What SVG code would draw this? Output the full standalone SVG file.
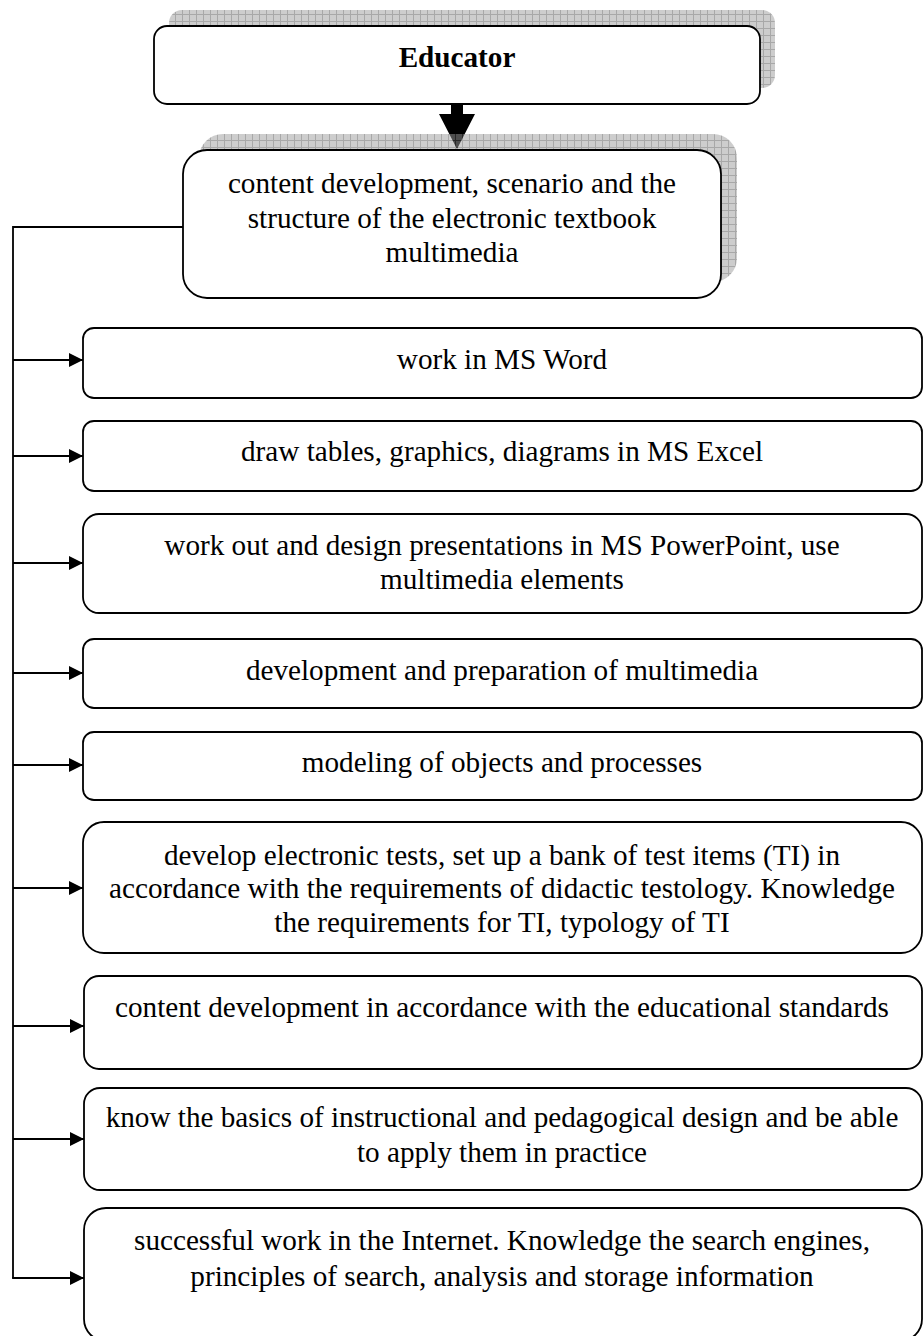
<svg xmlns="http://www.w3.org/2000/svg" width="923" height="1336" viewBox="0 0 923 1336">
  <defs>
    <pattern id="grid" width="7" height="7" patternUnits="userSpaceOnUse">
      <rect width="7" height="7" fill="#9b9b9b"/>
      <path d="M0 0.5H7M0.5 0V7" stroke="#515151" stroke-width="1" fill="none"/>
    </pattern>
    <marker id="ah" viewBox="0 0 14 14" refX="14" refY="7" markerWidth="14" markerHeight="14" markerUnits="userSpaceOnUse" orient="auto">
      <path d="M0 0L14 7L0 14Z" fill="#000"/>
    </marker>
    <style>
      .box { fill: #ffffff; stroke: #000000; stroke-width: 1.8; }
      .shadow { fill: url(#grid); opacity: 0.5; }
      .t { font-family: "Liberation Serif", "Times New Roman", serif; font-size: 29.2px; fill: #000; text-anchor: middle; }
      .b { font-weight: bold; }
      .conn { fill: none; stroke: #000; stroke-width: 1.8; }
    </style>
  </defs>

  <g id="educator">
    <rect class="shadow" x="169" y="10" width="606" height="78" rx="13"/>
    <rect class="box" x="154" y="26" width="606" height="78" rx="13"/>
    <text class="t b" x="457" y="67">Educator</text>
  </g>

  <g id="arrow-main">
    <path d="M451 104H463V114H475L457 149L439 114H451Z" fill="#000"/>
  </g>

  <g id="content">
    <rect class="shadow" x="199" y="134" width="538" height="148" rx="24"/>
    <rect class="box" x="183" y="150" width="538" height="148" rx="24"/>
    <text class="t" x="452" y="193">content development, scenario and the</text>
    <text class="t" x="452" y="228">structure of the electronic textbook</text>
    <text class="t" x="452" y="262">multimedia</text>
  </g>

  <g id="connectors">
    <path class="conn" d="M183 227H13V1278"/>
    <path class="conn" d="M13 360H83" marker-end="url(#ah)"/>
    <path class="conn" d="M13 456H83" marker-end="url(#ah)"/>
    <path class="conn" d="M13 563H83" marker-end="url(#ah)"/>
    <path class="conn" d="M13 673H83" marker-end="url(#ah)"/>
    <path class="conn" d="M13 765H83" marker-end="url(#ah)"/>
    <path class="conn" d="M13 888H83" marker-end="url(#ah)"/>
    <path class="conn" d="M13 1026H84" marker-end="url(#ah)"/>
    <path class="conn" d="M13 1139H84" marker-end="url(#ah)"/>
    <path class="conn" d="M12.1 1278H84" marker-end="url(#ah)"/>
  </g>

  <g id="box1">
    <rect class="box" x="83" y="328" width="839" height="70" rx="11"/>
    <text class="t" x="502" y="369">work in MS Word</text>
  </g>
  <g id="box2">
    <rect class="box" x="83" y="421" width="839" height="70" rx="11"/>
    <text class="t" x="502" y="461">draw tables, graphics, diagrams in MS Excel</text>
  </g>
  <g id="box3">
    <rect class="box" x="83" y="514" width="839" height="99" rx="16"/>
    <text class="t" x="502" y="555">work out and design presentations in MS PowerPoint, use</text>
    <text class="t" x="502" y="589">multimedia elements</text>
  </g>
  <g id="box4">
    <rect class="box" x="83" y="639" width="839" height="69" rx="11"/>
    <text class="t" x="502" y="680">development and preparation of multimedia</text>
  </g>
  <g id="box5">
    <rect class="box" x="83" y="732" width="839" height="68" rx="11"/>
    <text class="t" x="502" y="772">modeling of objects and processes</text>
  </g>
  <g id="box6">
    <rect class="box" x="83" y="822" width="839" height="131" rx="21"/>
    <text class="t" x="502" y="865">develop electronic tests, set up a bank of test items (TI) in</text>
    <text class="t" x="502" y="898">accordance with the requirements of didactic testology. Knowledge</text>
    <text class="t" x="502" y="932">the requirements for TI, typology of TI</text>
  </g>
  <g id="box7">
    <rect class="box" x="84" y="976" width="838" height="93" rx="15"/>
    <text class="t" x="502" y="1017">content development in accordance with the educational standards</text>
  </g>
  <g id="box8">
    <rect class="box" x="84" y="1088" width="838" height="102" rx="16"/>
    <text class="t" x="502" y="1127">know the basics of instructional and pedagogical design and be able</text>
    <text class="t" x="502" y="1162">to apply them in practice</text>
  </g>
  <g id="box9">
    <rect class="box" x="84" y="1208" width="838" height="133" rx="22"/>
    <text class="t" x="502" y="1250">successful work in the Internet. Knowledge the search engines,</text>
    <text class="t" x="502" y="1286">principles of search, analysis and storage information</text>
  </g>
</svg>
